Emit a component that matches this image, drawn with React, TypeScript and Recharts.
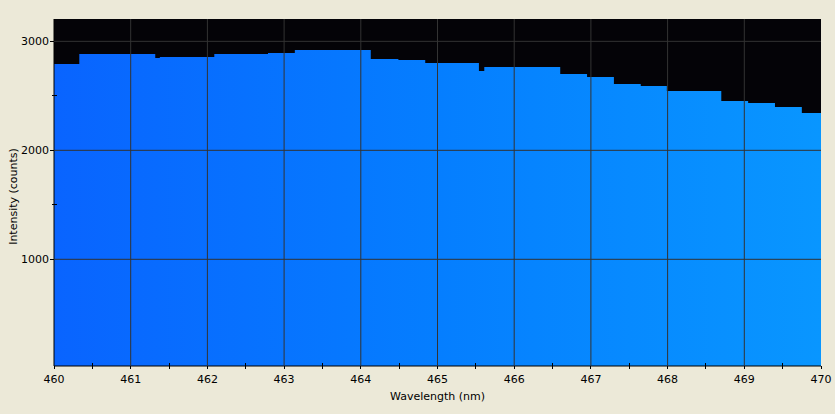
import React from 'react';
import { ComposedChart, Area, XAxis, YAxis, CartesianGrid } from 'recharts';

// Step edges (nm); each value holds until the next edge.
const wavelengths = [460.0, 460.33, 461.32, 461.38, 462.09, 462.79, 463.14, 464.13, 464.49, 464.84, 465.54, 465.61, 466.6, 466.95, 467.3, 467.65, 467.99, 468.7, 469.05, 469.4, 469.75, 470.0];
const intensity = [2792, 2883, 2847, 2856, 2883, 2893, 2920, 2838, 2828, 2801, 2728, 2764, 2700, 2672, 2608, 2590, 2544, 2452, 2434, 2397, 2342, 2342];

const xTicks = [460, 460.5, 461, 461.5, 462, 462.5, 463, 463.5, 464, 464.5, 465, 465.5, 466, 466.5, 467, 467.5, 468, 468.5, 469, 469.5, 470];
const yTicks = [1000, 1500, 2000, 2500, 3000];
const xGrid = [461, 462, 463, 464, 465, 466, 467, 468, 469];
const yGrid = [1000, 2000, 3000];

const PAGE_BG = '#ece9d8';
const PLOT_BG = '#040307';
const GRID = '#333333';
const INK = '#000000';
const FONT = '"DejaVu Sans", Tahoma, sans-serif';

const data = wavelengths.map((w, i) => ({ wavelength: w, intensity: intensity[i] }));

const isMajor = (v: number) => Number.isInteger(v) && v % 1000 === 0;

const YTick = (props: any) => {
    const { x, y, payload } = props;
    const v = payload.value as number;
    if (!isMajor(v)) {
        return <line x1={x - 2} x2={x + 3} y1={y} y2={y} stroke={INK} shapeRendering="crispEdges" />;
    }
    return (
        <g>
            <line x1={x - 4} x2={x} y1={y} y2={y} stroke={INK} shapeRendering="crispEdges" />
            <text x={x - 5} y={y} dy={4} textAnchor="end" fill={INK} fontSize={11} fontFamily={FONT}>{v}</text>
        </g>
    );
};

const XTick = (props: any) => {
    const { x, y, payload } = props;
    const v = payload.value as number;
    if (!Number.isInteger(v)) {
        return <line x1={x} x2={x} y1={y - 3} y2={y + 3} stroke={INK} shapeRendering="crispEdges" />;
    }
    return (
        <g>
            <line x1={x} x2={x} y1={y} y2={y + 3} stroke={INK} shapeRendering="crispEdges" />
            <text x={x} y={y} dy={17} textAnchor="middle" fill={INK} fontSize={11} fontFamily={FONT}>{v}</text>
        </g>
    );
};

export default function App() {
    return (
        <div style={{ position: 'absolute', left: 0, top: 0, width: 835, height: 414, background: PAGE_BG }}>
            <ComposedChart width={835} height={414} data={data} margin={{ top: 19, right: 14, bottom: 0, left: 0 }}>
                <defs>
                    <linearGradient id="specFill" x1="0" y1="0" x2="1" y2="0">
                        <stop offset="0%" stopColor="#0964ff" />
                        <stop offset="50%" stopColor="#057eff" />
                        <stop offset="100%" stopColor="#0996ff" />
                    </linearGradient>
                </defs>
                <CartesianGrid fill={PLOT_BG} horizontal={false} vertical={false} />
                <XAxis type="number" dataKey="wavelength" domain={[460, 470]} ticks={xTicks} interval={0}
                    height={48} tickSize={0} tickMargin={0} tick={<XTick />} axisLine={{ stroke: INK }}
                    label={{ value: 'Wavelength (nm)', position: 'insideBottom', offset: 14, fill: INK, fontSize: 11, fontFamily: FONT }} />
                <YAxis type="number" domain={[21, 3205]} ticks={yTicks} interval={0} width={54}
                    tickSize={0} tickMargin={0} tick={<YTick />} axisLine={{ stroke: INK }}
                    label={{ value: 'Intensity (counts)', angle: -90, position: 'insideLeft', offset: 13, dy: 4, fill: INK, fontSize: 11, fontFamily: FONT, style: { textAnchor: 'middle' } }} />
                <Area type="stepAfter" dataKey="intensity" stroke="none" fill="url(#specFill)" fillOpacity={1}
                    isAnimationActive={false} dot={false} activeDot={false} />
                <CartesianGrid zIndex={500} stroke={GRID} horizontalValues={yGrid} verticalValues={xGrid} />
            </ComposedChart>
        </div>
    );
}
